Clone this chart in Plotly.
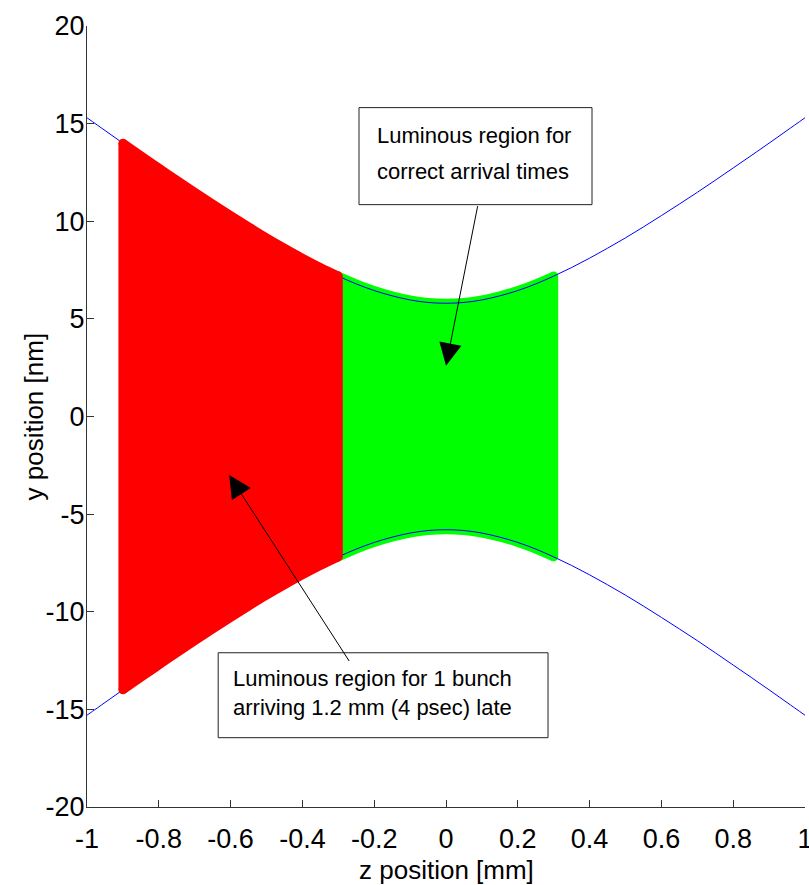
import plotly.graph_objects as go

# Beam envelope half-height (nm) versus z position (mm)
ENVELOPE_Z = [-1.0, -0.95, -0.9, -0.85, -0.8, -0.75, -0.7, -0.65, -0.6, -0.55, -0.5,
              -0.45, -0.4, -0.35, -0.3, -0.25, -0.2, -0.15, -0.1, -0.05, 0.0,
              0.05, 0.1, 0.15, 0.2, 0.25, 0.3, 0.35, 0.4, 0.45, 0.5,
              0.55, 0.6, 0.65, 0.7, 0.75, 0.8, 0.85, 0.9, 0.95, 1.0]
ENVELOPE_Y = [15.3, 14.65, 14.0, 13.36, 12.73, 12.1, 11.48, 10.88, 10.29, 9.71, 9.15,
              8.62, 8.11, 7.63, 7.19, 6.79, 6.45, 6.18, 5.97, 5.84, 5.8,
              5.84, 5.97, 6.18, 6.45, 6.79, 7.19, 7.63, 8.11, 8.62, 9.15,
              9.71, 10.29, 10.88, 11.48, 12.1, 12.73, 13.36, 14.0, 14.65, 15.3]

# z extent (mm) of the two luminous regions
LATE_RANGE = (-0.9, -0.3)
ONTIME_RANGE = (-0.3, 0.3)

X_TICKS = [-1, -0.8, -0.6, -0.4, -0.2, 0, 0.2, 0.4, 0.6, 0.8, 1]
X_TICK_TEXT = ["-1", "-0.8", "-0.6", "-0.4", "-0.2", "0", "0.2", "0.4", "0.6", "0.8", "1"]
Y_TICKS = [-20, -15, -10, -5, 0, 5, 10, 15, 20]
Y_TICK_TEXT = ["-20", "-15", "-10", "-5", "0", "5", "10", "15", "20"]

FONT = "Liberation Sans Narrow, Arial Narrow, Liberation Sans, Arial, sans-serif"
EDGE = 9  # width of the dotted rim around each region


def add_region(fig, lo, hi, color):
    """Filled envelope between z=lo and z=hi with a rounded rim."""
    pts = [(z, y) for z, y in zip(ENVELOPE_Z, ENVELOPE_Y) if lo - 1e-9 <= z <= hi + 1e-9]
    zs = [p[0] for p in pts]
    ys = [p[1] for p in pts]
    fig.add_trace(go.Scatter(x=zs + zs[::-1], y=ys + [-v for v in ys[::-1]],
                             mode="lines", fill="toself", fillcolor=color,
                             line=dict(width=0), hoverinfo="skip", showlegend=False))
    for sign in (1, -1):
        fig.add_trace(go.Scatter(x=zs, y=[sign * v for v in ys], mode="lines",
                                 line=dict(color=color, width=EDGE, shape="spline"),
                                 hoverinfo="skip", showlegend=False))
    for z, y in ((zs[0], ys[0]), (zs[-1], ys[-1])):
        fig.add_trace(go.Scatter(x=[z, z], y=[y, -y], mode="lines+markers",
                                 line=dict(color=color, width=EDGE),
                                 marker=dict(color=color, size=EDGE),
                                 hoverinfo="skip", showlegend=False))


fig = go.Figure()

add_region(fig, *ONTIME_RANGE, "#00ff00")

for sign in (1, -1):
    fig.add_trace(go.Scatter(x=ENVELOPE_Z, y=[sign * v for v in ENVELOPE_Y],
                             mode="lines", line=dict(color="#0000ff", width=1, shape="spline"),
                             showlegend=False))

add_region(fig, *LATE_RANGE, "#ff0000")

# Text boxes
fig.add_shape(type="rect", x0=-0.2423, x1=0.4067, y0=10.85, y1=15.82,
              line=dict(color="#222222", width=1), fillcolor="white", layer="above")
fig.add_shape(type="rect", x0=-0.6346, x1=0.2842, y0=-16.45, y1=-12.1,
              line=dict(color="#222222", width=1), fillcolor="white", layer="above")

text_font = dict(family=FONT, size=22, color="black")
box_lines = [
    (-0.197, 14.38, "Luminous region for"),
    (-0.197, 12.54, "correct arrival times"),
    (-0.598, -13.4, "Luminous region for 1 bunch"),
    (-0.598, -14.9, "arriving 1.2 mm (4 psec) late"),
]
for bx, by, line in box_lines:
    fig.add_annotation(x=bx, y=by, xref="x", yref="y", xanchor="left", yanchor="middle",
                       showarrow=False, text=line, font=text_font)

# Arrows
fig.add_annotation(x=0.0, y=2.6, ax=0.089, ay=10.85, xref="x", yref="y",
                   axref="x", ayref="y", text="", showarrow=True,
                   arrowhead=2, arrowsize=4.5, arrowwidth=1, arrowcolor="black")
fig.add_annotation(x=-0.604, y=-3.0, ax=-0.267, ay=-12.6, xref="x", yref="y",
                   axref="x", ayref="y", text="", showarrow=True,
                   arrowhead=2, arrowsize=4.5, arrowwidth=1, arrowcolor="black")

axis_common = dict(showgrid=False, zeroline=False, showline=True, linecolor="#333333",
                   linewidth=1, ticks="inside", ticklen=7, tickcolor="#333333",
                   ticklabeloverflow="allow", automargin=False,
                   tickfont=dict(family=FONT, size=27, color="black"))

fig.update_xaxes(range=[-1, 1], tickvals=X_TICKS, ticktext=X_TICK_TEXT,
                 ticklabelstandoff=8, **axis_common)
fig.update_yaxes(range=[-20, 20], tickvals=Y_TICKS, ticktext=Y_TICK_TEXT,
                 ticklabelstandoff=-4, **axis_common)

title_font = dict(family=FONT, size=26, color="black")
fig.add_annotation(x=0.5, y=-0.0805, xref="paper", yref="paper", showarrow=False,
                   xanchor="center", yanchor="middle", text="z position [mm]", font=title_font)
fig.add_annotation(x=-0.0752, y=0.5, xref="paper", yref="paper", showarrow=False,
                   xanchor="center", yanchor="middle", textangle=-90,
                   text="y position [nm]", font=title_font)

fig.update_layout(width=809, height=885, margin=dict(l=87, r=4, t=26, b=78, autoexpand=False),
                  plot_bgcolor="white", paper_bgcolor="white")

fig.write_html("out.html")
